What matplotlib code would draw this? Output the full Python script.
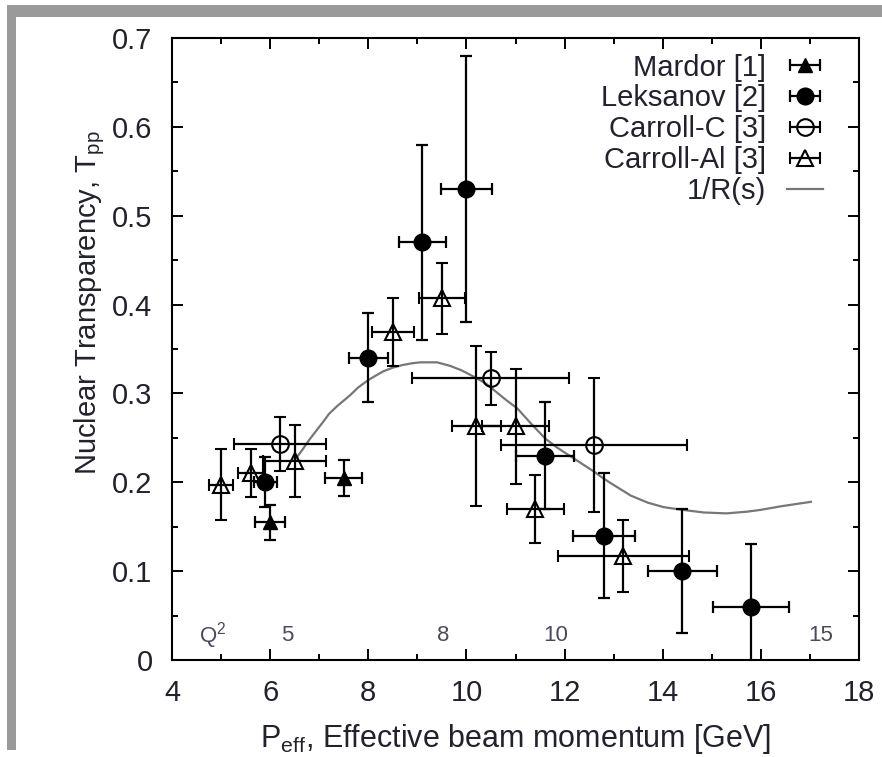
#nuclear transparency vs effective beam momentum
import numpy as np
import matplotlib
matplotlib.use('Agg')
import matplotlib.pyplot as plt
from matplotlib.patches import Rectangle
from matplotlib.lines import Line2D
from matplotlib.ticker import MultipleLocator

plt.rcParams['font.family'] = ['Liberation Sans', 'DejaVu Sans']
plt.rcParams['mathtext.fontset'] = 'custom'
plt.rcParams['mathtext.rm'] = 'Liberation Sans'
plt.rcParams['mathtext.it'] = 'Liberation Sans:italic'

#Mardor [1]
mardor_x = [6.0, 7.5]
mardor_y = [0.155, 0.205]
mardor_xerr = [0.3, 0.38]
mardor_yerr = [0.02, 0.02]

#Leksanov [2]
leks_x = [5.9, 8.0, 9.1, 10.0, 11.6, 12.8, 14.4, 15.8]
leks_y = [0.20, 0.34, 0.47, 0.53, 0.23, 0.14, 0.10, 0.06]
leks_xerr = [0.23, 0.4, 0.48, 0.52, 0.59, 0.63, 0.7, 0.78]
leks_yerr = [0.028, 0.05, 0.11, 0.15, 0.06, 0.07, 0.07, 0.07]

#Carroll-C [3]
carc_x = [6.2, 10.5, 12.6]
carc_y = [0.243, 0.317, 0.242]
carc_xerr = [0.94, 1.6, 1.9]
carc_yerr = [0.03, 0.03, 0.075]

#Carroll-Al [3]
caral_x = [5.0, 5.6, 6.5, 8.5, 9.5, 10.2, 11.0, 11.4, 13.2]
caral_y = [0.197, 0.21, 0.224, 0.369, 0.407, 0.263, 0.263, 0.17, 0.117]
caral_xerr = [0.25, 0.26, 0.64, 0.43, 0.47, 0.5, 0.69, 0.58, 1.33]
caral_yerr = [0.04, 0.027, 0.04, 0.038, 0.04, 0.09, 0.065, 0.038, 0.04]

#1/R(s) curve
curve_x = [6.5, 6.65, 6.8, 7.08, 7.2, 7.35, 7.63, 7.8, 8.0, 8.15, 8.31, 8.5, 8.7,
           8.9, 9.06, 9.4, 9.67, 9.9, 10.18, 10.4, 10.6, 10.8, 11.04, 11.3, 11.61,
           11.85, 12.1, 12.35, 12.6, 12.8, 13.0, 13.35, 13.7, 14.02, 14.4, 14.84,
           15.3, 15.73, 16.0, 16.41, 17.02]
curve_y = [0.225, 0.236, 0.248, 0.268, 0.277, 0.285, 0.298, 0.307, 0.315, 0.320,
           0.325, 0.329, 0.332, 0.334, 0.335, 0.335, 0.331, 0.326, 0.318, 0.311,
           0.302, 0.293, 0.283, 0.267, 0.249, 0.239, 0.23, 0.221, 0.212, 0.204,
           0.197, 0.185, 0.177, 0.172, 0.169, 0.166, 0.165, 0.167, 0.169, 0.173,
           0.178]

#Q^2 scale labels along the bottom
q2_labels = ['5', '8', '10', '15']
q2_at = [6.35, 9.53, 11.82, 17.22]

txt_col = '#22222e'

fig = plt.figure(figsize=(8.82, 7.57), dpi=100)
ax = fig.add_axes([172/882, 97/757, 687/882, 622/757])

#frame shadow like the screenshot
fig.patches.append(Rectangle((7/882, 740/757), 875/882, 12/757, transform=fig.transFigure,
                             facecolor='#9a9a9a', edgecolor='none', zorder=0))
fig.patches.append(Rectangle((7/882, 7/757), 9/882, 745/757, transform=fig.transFigure,
                             facecolor='#9a9a9a', edgecolor='none', zorder=0))

eb = dict(color='black', ecolor='black', elinewidth=1.6, capsize=4.5, capthick=1.6, linestyle='none')

ax.plot(curve_x, curve_y, color='#777777', lw=1.6, zorder=1)
ax.errorbar(mardor_x, mardor_y, xerr=mardor_xerr, yerr=mardor_yerr, fmt='^', ms=10, **eb)
ax.errorbar(leks_x, leks_y, xerr=leks_xerr, yerr=leks_yerr, fmt='o', ms=12, **eb)
ax.errorbar(carc_x, carc_y, xerr=carc_xerr, yerr=carc_yerr, fmt='o', ms=12,
            mfc='none', mew=1.5, **eb)
ax.errorbar(caral_x, caral_y, xerr=caral_xerr, yerr=caral_yerr, fmt='^', ms=11,
            mfc='none', mew=1.5, **eb)

#legend proxies with horizontal bars only
h1 = ax.errorbar([np.nan], [np.nan], xerr=[1], fmt='^', ms=10, **eb)
h2 = ax.errorbar([np.nan], [np.nan], xerr=[1], fmt='o', ms=12, **eb)
h3 = ax.errorbar([np.nan], [np.nan], xerr=[1], fmt='o', ms=12, mfc='none', mew=1.5, **eb)
h4 = ax.errorbar([np.nan], [np.nan], xerr=[1], fmt='^', ms=11, mfc='none', mew=1.5, **eb)
h5 = Line2D([], [], color='#777777', lw=1.6)
leg = ax.legend([h1, h2, h3, h4, h5],
                ['Mardor [1]', 'Leksanov [2]', 'Carroll-C [3]', 'Carroll-Al [3]', '1/R(s)'],
                loc='upper right', bbox_to_anchor=(0.948, 0.975), frameon=False,
                markerfirst=False, fontsize=21, labelspacing=0.1, handlelength=1.25,
                handletextpad=0.7, borderpad=0, borderaxespad=0)
for col in leg._legend_handle_box.get_children():
    col.align = 'right'
for t in leg.get_texts():
    t.set_color(txt_col)

#Q^2 labels
ax.text(4.82, 0.028, r'Q$^2$', fontsize=16, color='#4a4a5a', ha='center', va='center')
for lab, xq in zip(q2_labels, q2_at):
    ax.text(xq, 0.028, lab, fontsize=16, color='#4a4a5a', ha='center', va='center')

ax.set_xlim(4, 18)
ax.set_ylim(0, 0.7)
ax.xaxis.set_major_locator(MultipleLocator(2))
ax.xaxis.set_minor_locator(MultipleLocator(1))
ax.yaxis.set_major_locator(MultipleLocator(0.1))
ax.yaxis.set_minor_locator(MultipleLocator(0.05))
ax.set_yticks(np.arange(0, 0.71, 0.1))
ax.set_yticklabels(['0', '0.1', '0.2', '0.3', '0.4', '0.5', '0.6', '0.7'])
ax.tick_params(which='both', direction='in', top=True, right=True, width=1.4,
               labelsize=21, labelcolor=txt_col)
ax.tick_params(which='major', length=8)
ax.tick_params(which='minor', length=4)
ax.tick_params(axis='x', pad=14)
ax.tick_params(axis='y', pad=14)
for s in ax.spines.values():
    s.set_linewidth(1.5)

ax.set_xlabel(r'P$_{\rm eff}$, Effective beam momentum [GeV]', fontsize=22, color=txt_col)
ax.xaxis.set_label_coords(0.5, -0.1)
ax.set_ylabel(r'Nuclear Transparency, T$_{\rm pp}$', fontsize=21, color=txt_col)
ax.yaxis.set_label_coords(-0.095, 0.575)

fig.savefig('out.png', dpi=100)
